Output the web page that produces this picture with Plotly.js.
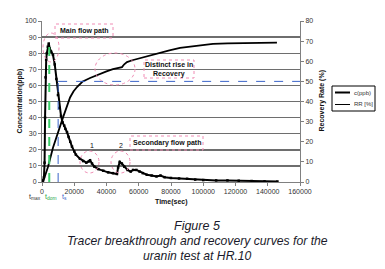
<!DOCTYPE html>
<html><head><meta charset="utf-8">
<script src="https://cdn.plot.ly/plotly-3.0.1.min.js"></script>
<style>html,body{margin:0;padding:0;background:#fff;}#chart{width:385px;height:269px;}</style>
</head><body><div id="chart"></div>
<script>
// Concentration c(ppb) vs time (s)
const concTime = [0,600,1200,1600,1900,2200,2600,3000,3600,4200,4800,5600,6800,7900,8900,9900,10800,11800,12800,13800,14500,15500,16500,17500,18600,20000,21000,23500,25500,27500,29000,29800,31000,32500,35000,38000,41000,44000,46500,47200,48200,49500,51000,53000,55000,56500,58500,60500,62500,65000,68000,71000,73500,76000,80000,85000,90000,95000,100000,108000,115000,122000,130000,138000,146000];
const concValue = [0,1,3,12,40,65,76,80,84,86,83,81,79,73,64,54,46,41,37,35,33,31,28,25,22,19,17,14.5,13,12,12.8,13.5,11.5,9.5,8,7,6,5.5,5,9,12.5,11.5,9.5,7.5,6.5,7.5,7.5,6.5,5.5,4.5,4,3.5,4,3,2.5,2.2,2,1.5,1.2,1,1,0.8,0.6,0.4,0.3];
// Recovery rate RR(%) vs time (s)
const rrTime = [600,3700,6800,9900,13000,17400,19500,21700,25000,29800,33000,36000,40000,44000,47000,49600,51000,52700,56000,60800,67000,73200,79000,85600,95000,106000,115000,127000,145700];
const rrValue = [0,7.5,17,25,32,42,45,47.2,49.8,51.7,52.8,53.7,55,56.1,56.7,57.1,58.5,59.6,60.5,61.6,63,64.1,65.4,66.6,67.6,68.6,68.9,69.1,69.3];
// axis ticks
const xTicks = [0,20000,40000,60000,80000,100000,120000,140000,160000];
const yLeftTicks = [0,10,20,30,40,50,60,70,80,90,100];
const yRightTicks = [0,10,20,30,40,50,60,70,80];
const seriesNames = ['c(ppb)', 'RR [%]'];
// reference markers
const tDom = 4500, tS = 10000, rr50 = 50;
const captionLines = ["Figure 5","Tracer breakthrough and recovery curves for the","uranin test at HR.10"];

const L=42, R=300, T=21, B=182, W=385, H=269;
const px = x => (x-L)/(R-L);
const py = y => (B-y)/(B-T);
const pink = '#f08cb4';
const font = 'Liberation Sans, Arial, sans-serif';

const traces = [
  {x: concTime, y: concValue, name: seriesNames[0], type: 'scatter', mode: 'lines+markers',
   line: {color: '#000', width: 2}, marker: {symbol: 'square', size: 2.5, color: '#000'}, yaxis: 'y'},
  {x: rrTime, y: rrValue, name: seriesNames[1], type: 'scatter', mode: 'lines',
   line: {color: '#000', width: 1.8}, yaxis: 'y2'}
];

const rr50Left = rr50 * 100 / 80; // same height on left scale
const shapes = [
  {type:'line', xref:'x', yref:'y', x0:tDom, x1:tDom, y0:0, y1:86, line:{color:'#3ccf6a', width:2, dash:'dash'}},
  {type:'line', xref:'x', yref:'y', x0:tS, x1:tS, y0:0, y1:rr50Left, line:{color:'#3a63c8', width:1, dash:'dash'}},
  {type:'line', xref:'x', yref:'y', x0:tS, x1:160000, y0:rr50Left, y1:rr50Left, line:{color:'#3a63c8', width:1, dash:'dash'}},
  // circles
  {type:'circle', xref:'paper', yref:'paper', x0:px(43), x1:px(59), y0:py(62), y1:py(33), line:{color:pink, width:1, dash:'dot'}},
  {type:'circle', xref:'paper', yref:'paper', x0:px(95), x1:px(135), y0:py(85), y1:py(53), line:{color:pink, width:1, dash:'dot'}},
  {type:'circle', xref:'paper', yref:'paper', x0:px(80), x1:px(99), y0:py(173), y1:py(151), line:{color:pink, width:1, dash:'dot'}},
  {type:'circle', xref:'paper', yref:'paper', x0:px(111), x1:px(130), y0:py(173), y1:py(151), line:{color:pink, width:1, dash:'dot'}},
  // boxes
  {type:'rect', xref:'paper', yref:'paper', x0:px(55), x1:px(113), y0:py(38), y1:py(24), line:{color:pink, width:1, dash:'dot'}},
  {type:'rect', xref:'paper', yref:'paper', x0:px(144), x1:px(194), y0:py(78), y1:py(60), line:{color:pink, width:1, dash:'dot'}},
  {type:'rect', xref:'paper', yref:'paper', x0:px(130), x1:px(203), y0:py(150), y1:py(136), line:{color:pink, width:1, dash:'dot'}},
  // legend box and samples
  {type:'rect', xref:'paper', yref:'paper', x0:px(332), x1:px(375), y0:py(111), y1:py(86), line:{color:'#000', width:1}, fillcolor:'#fff'},
  {type:'line', xref:'paper', yref:'paper', x0:px(335), x1:px(350), y0:py(92.5), y1:py(92.5), line:{color:'#000', width:2}},
  {type:'line', xref:'paper', yref:'paper', x0:px(335), x1:px(350), y0:py(104.5), y1:py(104.5), line:{color:'#000', width:1}}
];

const ann = (x,y,text,opts={}) => Object.assign({xref:'paper', yref:'paper', x:px(x), y:py(y), text, showarrow:false,
  font:{family:font, size:7, color:'#111'}, xanchor:'center', yanchor:'middle'}, opts);

const annotations = [
  ann(84,31,'<b>Main flow path</b>'),
  ann(169,64.5,'<b>Distinct rise in</b>'),
  ann(169,73.5,'<b>Recovery</b>'),
  ann(166.5,143,'<b>Secondary flow path</b>'),
  ann(92,145,'1'),
  ann(121,145,'2'),
  ann(35,197,'t<sub>max</sub>', {font:{family:font, size:7, color:'#333'}}),
  ann(50,197,'t<sub>dom</sub>', {font:{family:font, size:7, color:'#1fa84a'}}),
  ann(64,197,'t<sub>s</sub>', {font:{family:font, size:7, color:'#3a63c8'}}),
  ann(171,202,'<b>Time(sec)</b>', {font:{family:font, size:7, color:'#111'}}),
  ann(19,101.5,'<b>Concentration(ppb)</b>', {textangle:-90, font:{family:font, size:7, color:'#111'}}),
  ann(321,101.5,'<b>Recovery Rate (%)</b>', {textangle:-90, font:{family:font, size:7, color:'#111'}}),
  ann(352,92.5,seriesNames[0], {xanchor:'left', font:{family:font, size:6, color:'#333'}}),
  ann(352,104.5,seriesNames[1], {xanchor:'left', font:{family:font, size:6, color:'#333'}}),
  ann(197,226,'<i>' + captionLines[0] + '</i>', {font:{family:font, size:12.5, color:'#1a1a2a'}}),
  ann(197,241.5,'<i>' + captionLines[1] + '</i>', {font:{family:font, size:12.2, color:'#1a1a2a'}}),
  ann(197,256,'<i>' + captionLines[2] + '</i>', {font:{family:font, size:12.2, color:'#1a1a2a'}})
];

const layout = {
  width: W, height: H,
  margin: {l: L, r: W-R, t: T, b: H-B, pad: 0, autoexpand: false},
  paper_bgcolor: '#fff', plot_bgcolor: '#fff',
  font: {family: font, size: 7, color: '#333'},
  showlegend: false,
  xaxis: {range:[0,160000], tickvals: xTicks, ticktext: xTicks.map(String), showgrid:false, zeroline:false,
          showline:true, linecolor:'#808080', linewidth:1, ticks:'outside', ticklen:3, tickcolor:'#808080',
          tickfont:{family:font, size:7, color:'#333'}, fixedrange:true, automargin:false},
  yaxis: {range:[0,100], tickvals: yLeftTicks, showgrid:true, gridcolor:'#6e6e6e', gridwidth:1.4, zeroline:false,
          showline:true, linecolor:'#808080', linewidth:1, ticks:'outside', ticklen:3, tickcolor:'#808080',
          tickfont:{family:font, size:7, color:'#333'}, fixedrange:true, automargin:false},
  yaxis2: {range:[0,80], tickvals: yRightTicks, overlaying:'y', side:'right', showgrid:false, zeroline:false,
           showline:true, linecolor:'#808080', linewidth:1, ticks:'outside', ticklen:3, tickcolor:'#808080',
           tickfont:{family:font, size:7, color:'#333'}, fixedrange:true, automargin:false},
  shapes, annotations
};

Plotly.newPlot('chart', traces, layout, {staticPlot:true, displayModeBar:false});
</script></body></html>
